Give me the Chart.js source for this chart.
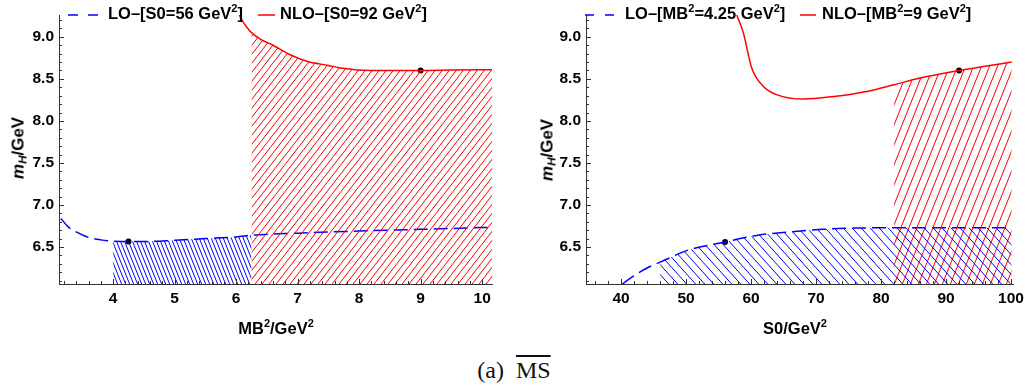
<!DOCTYPE html>
<html><head><meta charset="utf-8">
<script src="https://cdn.jsdelivr.net/npm/chart.js@4.4.1/dist/chart.umd.min.js"></script>
<style>
html,body{margin:0;padding:0;background:#fff;width:1025px;height:391px;overflow:hidden;position:relative;font-family:'Liberation Sans',Arial,sans-serif;}
canvas{position:absolute;top:0;}
#c1{left:0}
#c2{left:512px}
.lg{position:absolute;font-weight:bold;font-size:16.5px;white-space:nowrap;line-height:16px;color:#000;}
.lg sup{font-size:11px;vertical-align:7px;line-height:0}
.ytitle{position:absolute;font-weight:bold;font-size:17px;white-space:nowrap;line-height:17px;transform:translate(-50%,-50%) rotate(-90deg);color:#000;}
.ytitle sub{font-size:11.5px;vertical-align:-3px;line-height:0}
.xtitle{position:absolute;font-weight:bold;font-size:16.5px;white-space:nowrap;line-height:17px;transform:translate(-50%,-50%);color:#000;}
.xtitle sup{font-size:11px;vertical-align:7px;line-height:0}
.cap{position:absolute;font-family:'Liberation Serif','DejaVu Serif',serif;font-size:24px;left:514px;top:370px;transform:translate(-50%,-50%);white-space:nowrap;line-height:24px;color:#111}
svg{position:absolute}
</style></head>
<body>
<canvas id="c1" width="512" height="341"></canvas>
<canvas id="c2" width="513" height="341"></canvas>

<svg style="left:66px;top:10px" width="34" height="10"><line x1="2" y1="5" x2="32" y2="5" stroke="#0000ff" stroke-width="1.5" stroke-dasharray="10 10"/></svg>
<div class="lg" style="left:108px;top:5px">LO–[S0=56 GeV<sup>2</sup>]</div>
<svg style="left:256px;top:10px" width="22" height="10"><line x1="2" y1="5" x2="19" y2="5" stroke="#ff0000" stroke-width="1.5"/></svg>
<div class="lg" style="left:280px;top:5px">NLO–[S0=92 GeV<sup>2</sup>]</div>

<svg style="left:583px;top:10px" width="34" height="10"><line x1="2" y1="5" x2="31" y2="5" stroke="#0000ff" stroke-width="1.5" stroke-dasharray="9 11"/></svg>
<div class="lg" style="left:625px;top:5px">LO–[MB<sup>2</sup>=4.25 GeV<sup>2</sup>]</div>
<svg style="left:798px;top:10px" width="22" height="10"><line x1="2" y1="5" x2="18" y2="5" stroke="#ff0000" stroke-width="1.5"/></svg>
<div class="lg" style="left:822px;top:5px">NLO–[MB<sup>2</sup>=9 GeV<sup>2</sup>]</div>

<div class="ytitle" style="left:18px;top:148px"><i>m</i><sub><i>H</i></sub>/GeV</div>
<div class="ytitle" style="left:547px;top:150px"><i>m</i><sub><i>H</i></sub>/GeV</div>
<div class="xtitle" style="left:276px;top:328px">MB<sup>2</sup>/GeV<sup>2</sup></div>
<div class="xtitle" style="left:795px;top:328px">S0/GeV<sup>2</sup></div>

<div class="cap">(a)&nbsp;&nbsp;<span style="text-decoration:overline">MS</span></div>

<script>
// ---------- tick labels ----------
const yTicks = [6.5, 7.0, 7.5, 8.0, 8.5, 9.0];
const leftXTicks = [4, 5, 6, 7, 8, 9, 10];
const rightXTicks = [40, 50, 60, 70, 80, 90, 100];

// ---------- left panel: vs MB^2 ----------
const leftLOx  = [3.15, 3.27, 3.4, 3.58, 3.8, 4.0, 4.25, 4.5, 5.0, 5.5, 6.0, 6.25, 7.0, 8.0, 9.0, 10.16];
const leftLOy  = [6.84, 6.74, 6.68, 6.62, 6.585, 6.57, 6.565, 6.565, 6.58, 6.60, 6.62, 6.64, 6.665, 6.69, 6.71, 6.735];
const leftNLOx = [6.05, 6.12, 6.2, 6.25, 6.4, 6.6, 6.87, 7.15, 7.5, 7.7, 8.2, 8.6, 9.0, 9.5, 10.16];
const leftNLOy = [9.26, 9.17, 9.09, 9.05, 8.97, 8.90, 8.79, 8.71, 8.66, 8.63, 8.60, 8.60, 8.60, 8.605, 8.61];
const leftLORange  = [4.0, 6.25];
const leftNLORange = [6.25, 10.16];
const leftDotsX = [4.25, 9.0];
const leftDotsY = [6.565, 8.60];

// ---------- right panel: vs S0 ----------
const rightLOx  = [40.2, 42, 44, 46, 50.2, 56, 61, 66, 71, 76, 82, 90, 100.1];
const rightLOy  = [6.06, 6.16, 6.25, 6.32, 6.46, 6.56, 6.64, 6.68, 6.71, 6.725, 6.73, 6.73, 6.73];
const rightNLOx = [57.8, 58.8, 60.1, 61.9, 64.0, 68.0, 72.7, 77.8, 82.0, 86.0, 92.0, 96.0, 100.1];
const rightNLOy = [9.26, 9.05, 8.63, 8.41, 8.31, 8.26, 8.29, 8.35, 8.43, 8.51, 8.60, 8.65, 8.70];
const rightLORange  = [46, 100.1];
const rightNLORange = [82, 100.1];
const rightDotsX = [56, 92];
const rightDotsY = [6.56, 8.60];

const BLUE = '#0000ff', RED = '#ff0000';
const FONT = "'Liberation Sans', Arial, sans-serif";

function pts(xs, ys) { return xs.map((x, i) => ({x: x, y: ys[i]})); }
function sub(xs, ys, r) { return pts(xs, ys).filter(p => p.x >= r[0] - 1e-9 && p.x <= r[1] + 1e-9); }

function hatch(color, w, h, dir) {
  const c = document.createElement('canvas');
  c.width = w; c.height = h;
  const g = c.getContext('2d');
  g.strokeStyle = color; g.lineWidth = 1;
  g.beginPath();
  for (let k = -2; k <= 2; k++) {
    if (dir > 0) { g.moveTo(k*w - w, 2*h); g.lineTo(k*w + 2*w, -h); }
    else { g.moveTo(k*w - w, -h); g.lineTo(k*w + 2*w, 2*h); }
  }
  g.stroke();
  return g.createPattern(c, 'repeat');
}

const innerTicks = {
  id: 'innerTicks',
  afterDraw(chart, args, o) {
    const {ctx, chartArea: a, scales: {x, y}} = chart;
    ctx.save(); ctx.strokeStyle = '#333'; ctx.lineWidth = 1; ctx.beginPath();
    const isMaj = (arr, v) => arr.some(m => Math.abs(m - v) < 1e-6);
    for (let v = o.xStart; v <= o.xEnd + 1e-9; v += o.xStep) {
      const vv = Math.round(v * 1000) / 1000;
      const p = Math.round(x.getPixelForValue(vv)) + 0.5;
      if (p < a.left || p > a.right) continue;
      const L = isMaj(o.xMajor, vv) ? 5 : 3;
      ctx.moveTo(p, a.bottom); ctx.lineTo(p, a.bottom - L);
    }
    for (let v = 6.1; v <= 9.25; v += 0.1) {
      const vv = Math.round(v * 100) / 100;
      const p = Math.round(y.getPixelForValue(vv)) + 0.5;
      if (p < a.top || p > a.bottom) continue;
      const L = isMaj(yTicks, vv) ? 5 : 3;
      ctx.moveTo(a.left, p); ctx.lineTo(a.left + L, p);
    }
    ctx.stroke(); ctx.restore();
  }
};

Chart.defaults.font.family = FONT;
Chart.defaults.font.size = 15;
Chart.defaults.font.weight = 'bold';
Chart.defaults.color = '#000';

function makeChart(id, cfg) {
  return new Chart(document.getElementById(id), {
    type: 'line',
    data: {
      datasets: [
        {data: sub(cfg.loX, cfg.loY, cfg.loR), borderWidth: 0, pointRadius: 0, fill: 'start',
         backgroundColor: hatch(BLUE, cfg.bw, cfg.bh, -1), cubicInterpolationMode: 'monotone'},
        {data: sub(cfg.nloX, cfg.nloY, cfg.nloR), borderWidth: 0, pointRadius: 0, fill: 'start',
         backgroundColor: hatch(RED, cfg.rw, cfg.rh, 1), cubicInterpolationMode: 'monotone'},
        {label: 'LO', data: pts(cfg.loX, cfg.loY), borderColor: BLUE, borderWidth: 1.5, borderDash: [14, 6],
         pointRadius: 0, fill: false, cubicInterpolationMode: 'monotone'},
        {label: 'NLO', data: pts(cfg.nloX, cfg.nloY), borderColor: RED, borderWidth: 1.5,
         pointRadius: 0, fill: false, cubicInterpolationMode: 'monotone'},
        {data: pts(cfg.dX, cfg.dY), showLine: false, pointRadius: 3, pointBackgroundColor: '#000',
         pointBorderColor: '#000', borderWidth: 0}
      ]
    },
    options: {
      responsive: false, animation: false, devicePixelRatio: 1,
      layout: {padding: {top: 15, right: cfg.padR, bottom: 0, left: 0}},
      plugins: {legend: {display: false}, tooltip: {enabled: false},
        innerTicks: {xStart: cfg.mStart, xEnd: cfg.mEnd, xStep: cfg.mStep, xMajor: cfg.xt}},
      scales: {
        x: {type: 'linear', min: cfg.xmin, max: cfg.xmax,
          afterBuildTicks: s => { s.ticks = cfg.xt.map(v => ({value: v})); },
          grid: {display: true, drawOnChartArea: false, drawTicks: true, tickLength: 5, tickColor: 'rgba(0,0,0,0)'},
          border: {display: true, color: '#333', width: 1},
          ticks: {padding: 0, maxRotation: 0, autoSkip: false, color: '#000',
                  font: {family: FONT, size: 15.5, weight: 'bold'}, callback: v => String(v)},
          title: {display: false},
          afterFit: s => { s.height = 57; }
        },
        y: {type: 'linear', min: 6.06, max: 9.26,
          afterBuildTicks: s => { s.ticks = yTicks.map(v => ({value: v})); },
          grid: {display: true, drawOnChartArea: false, drawTicks: true, tickLength: 5, tickColor: 'rgba(0,0,0,0)'},
          border: {display: true, color: '#333', width: 1},
          ticks: {padding: 0, color: '#000', font: {family: FONT, size: 15.5, weight: 'bold'},
                  callback: v => v.toFixed(1)},
          afterFit: s => { s.width = cfg.yw; }
        }
      }
    },
    plugins: [innerTicks]
  });
}

makeChart('c1', {loX: leftLOx, loY: leftLOy, loR: leftLORange, nloX: leftNLOx, nloY: leftNLOy, nloR: leftNLORange,
  dX: leftDotsX, dY: leftDotsY, xmin: 3.12, xmax: 10.16, xt: leftXTicks,
  yw: 59, padR: 20, bw: 4, bh: 10, rw: 7, rh: 9, mStart: 3.2, mEnd: 10.2, mStep: 0.2});
makeChart('c2', {loX: rightLOx, loY: rightLOy, loR: rightLORange, nloX: rightNLOx, nloY: rightNLOy, nloR: rightNLORange,
  dX: rightDotsX, dY: rightDotsY, xmin: 34.6, xmax: 100.3, xt: rightXTicks,
  yw: 74, padR: 12, bw: 9, bh: 10, rw: 8, rh: 20, mStart: 36, mEnd: 100, mStep: 2});
</script>
</body></html>
